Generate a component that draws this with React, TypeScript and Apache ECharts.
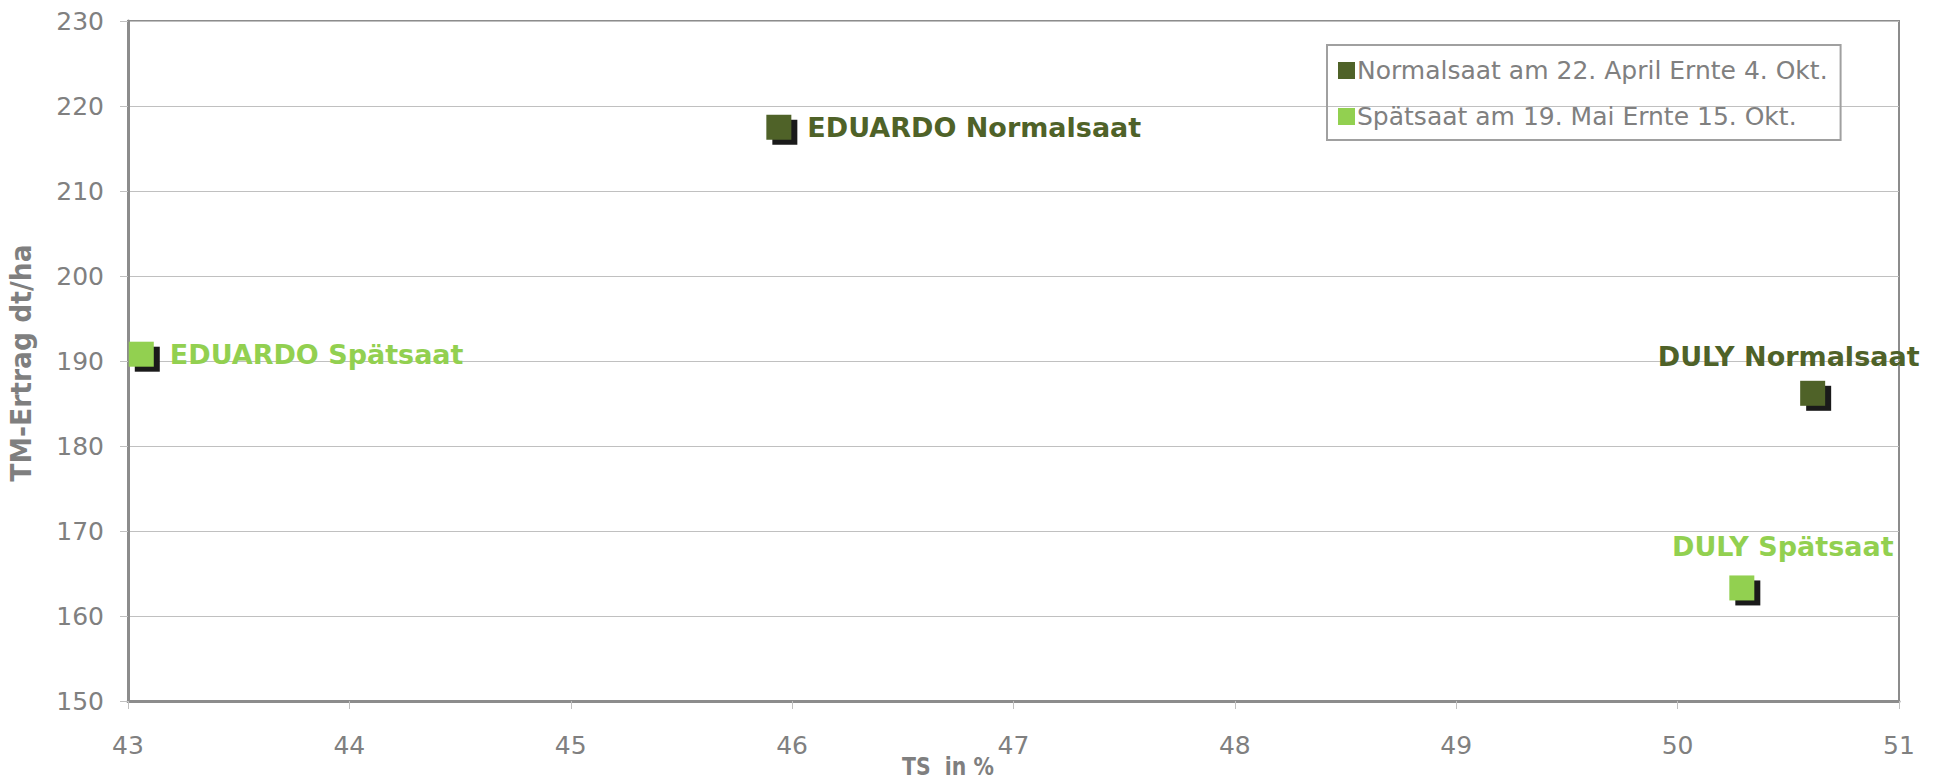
import React, { useEffect, useRef } from "react";
import * as echarts from "echarts";

// ---- Data ----
const seriesNames = [
  "Normalsaat am 22. April Ernte 4. Okt.",
  "Spätsaat am 19. Mai Ernte 15. Okt.",
];
const normalLabels = ["EDUARDO Normalsaat", "DULY Normalsaat"];
const normalTS = [45.94, 50.61];
const normalYield = [217.5, 186.2];
const spaetLabels = ["EDUARDO Spätsaat", "DULY Spätsaat"];
const spaetTS = [43.06, 50.29];
const spaetYield = [190.8, 163.3];

const xTitle = "TS  in %";
const yTitle = "TM-Ertrag dt/ha";

// ---- Styles ----
const FONT = "DejaVu Sans";
const darkGreen = "#4f6228";
const lightGreen = "#92d050";
const shadowCol = "#1a1a1a";
const normalLabelLayout = [
  { position: "right", distance: 16 },
  { position: "inside", offset: [-24, -37] },
];
const spaetLabelLayout = [
  { position: "right", distance: 16 },
  { position: "inside", offset: [41, -41] },
];

function pts(xs: number[], ys: number[]) {
  return xs.map((x, i) => [x, ys[i]]);
}

function labelled(xs: number[], ys: number[], labels: string[], layout: any[], color: string) {
  return xs.map((x, i) => ({
    value: [x, ys[i]],
    label: {
      show: true,
      formatter: labels[i],
      color,
      fontFamily: FONT,
      fontWeight: "bold",
      fontSize: 27,
      ...layout[i],
    },
  }));
}

export default function App() {
  const ref = useRef<HTMLDivElement>(null);
  useEffect(() => {
    document.body.style.margin = "0";
    document.body.style.overflow = "hidden";
    const chart = echarts.init(ref.current!, undefined, { renderer: "svg" });
    const shadow = (name: string, xs: number[], ys: number[]) => ({
      name,
      type: "scatter",
      symbol: "rect",
      symbolSize: 25,
      symbolOffset: [6, 5],
      silent: true,
      z: 1,
      itemStyle: { color: shadowCol, opacity: 1 },
      data: pts(xs, ys),
    });
    chart.setOption({
      animation: false,
      backgroundColor: "#ffffff",
      grid: {
        left: 128,
        top: 21,
        right: 44,
        bottom: 78,
        containLabel: false,
        outerBoundsMode: "none",
        show: true,
        borderColor: "#8c8c8c",
        borderWidth: 2,
        backgroundColor: "transparent",
      },
      legend: {
        data: seriesNames,
        orient: "vertical",
        left: 1327,
        top: 45,
        padding: [13, 13, 11, 11],
        borderColor: "#a0a0a0",
        borderWidth: 2,
        itemWidth: 17,
        itemHeight: 17,
        itemGap: 21,
        icon: "rect",
        textStyle: {
          fontFamily: FONT,
          fontSize: 25,
          lineHeight: 25,
          color: "#808080",
          padding: [0, 0, 0, -3],
        },
      },
      xAxis: {
        type: "value",
        min: 43,
        max: 51,
        interval: 1,
        axisLine: { show: true, onZero: false, lineStyle: { color: "#8c8c8c", width: 3 } },
        axisTick: { show: true, length: 8, lineStyle: { color: "#c0c0c0", width: 1 } },
        axisLabel: { margin: 32, fontFamily: FONT, fontSize: 25, color: "#808080" },
        splitLine: { show: false },
      },
      yAxis: {
        type: "value",
        min: 150,
        max: 230,
        interval: 10,
        axisLine: { show: true, onZero: false, lineStyle: { color: "#8c8c8c", width: 3 } },
        axisTick: { show: true, length: 8, lineStyle: { color: "#c0c0c0", width: 1 } },
        axisLabel: { margin: 24, fontFamily: FONT, fontSize: 25, color: "#808080" },
        splitLine: { show: true, lineStyle: { color: "#c0c0c0", width: 1 } },
      },
      graphic: [
        {
          type: "text",
          x: 948,
          y: 766,
          scaleX: 0.85,
          style: {
            text: xTitle,
            fontFamily: FONT,
            fontSize: 24,
            fontWeight: "bold",
            fill: "#7f7f7f",
            align: "center",
            verticalAlign: "middle",
          },
        },
        {
          type: "text",
          x: 21,
          y: 363,
          rotation: Math.PI / 2,
          scaleX: 0.95,
          style: {
            text: yTitle,
            fontFamily: FONT,
            fontSize: 28,
            fontWeight: "bold",
            fill: "#7f7f7f",
            align: "center",
            verticalAlign: "middle",
          },
        },
      ],
      series: [
        shadow("_s1", normalTS, normalYield),
        shadow("_s2", spaetTS, spaetYield),
        {
          name: seriesNames[0],
          type: "scatter",
          symbol: "rect",
          symbolSize: 25,
          z: 2,
          itemStyle: { color: darkGreen, opacity: 1 },
          data: labelled(normalTS, normalYield, normalLabels, normalLabelLayout, darkGreen),
        },
        {
          name: seriesNames[1],
          type: "scatter",
          symbol: "rect",
          symbolSize: 25,
          z: 2,
          itemStyle: { color: lightGreen, opacity: 1 },
          data: labelled(spaetTS, spaetYield, spaetLabels, spaetLabelLayout, lightGreen),
        },
      ],
    });
    return () => chart.dispose();
  }, []);
  return <div ref={ref} style={{ width: 1943, height: 779 }} />;
}
